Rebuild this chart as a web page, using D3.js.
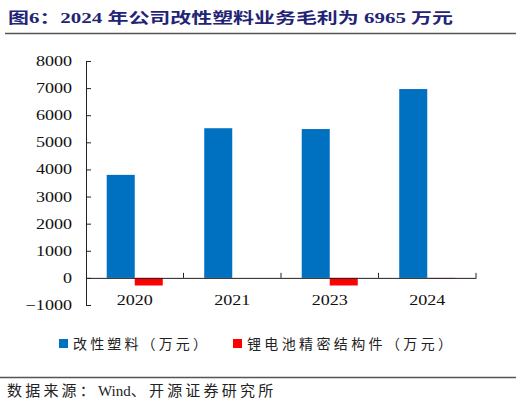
<!DOCTYPE html>
<html>
<head>
<meta charset="utf-8">
<script src="https://cdn.jsdelivr.net/npm/d3@7"></script>
<style>
  body { margin: 0; background: #fff; }
  text { font-family: "Liberation Serif", "Noto Sans CJK SC", serif; }
</style>
</head>
<body>
<svg id="drawing_region"></svg>
<script>
// data
const years = ['2020', '2021', '2023', '2024'];
const plastics = [3800, 5520, 5490, 6965];     // 改性塑料（万元）
const battery = [-280, 0, -280, -20];          // 锂电池精密结构件（万元）
const seriesNames = ['改性塑料（万元）', '锂电池精密结构件（万元）'];
const seriesColors = ['#0070C0', '#FF0000'];
const yTicks = [-1000, 0, 1000, 2000, 3000, 4000, 5000, 6000, 7000, 8000];

const W = 522, H = 407;
const SX = 1.29; // the original picture is drawn a bit wide

const svg = d3.select('#drawing_region')
    .attr('width', W)
    .attr('height', H);

// stretch a text element horizontally
function stretch(sel, k) {
    sel.each(function() {
        const len = this.getComputedTextLength();
        d3.select(this).attr('textLength', len * k).attr('lengthAdjust', 'spacingAndGlyphs');
    });
}

// title
svg.append('text')
    .attr('x', 8)
    .attr('y', 23)
    .style('font-size', '15px')
    .style('font-weight', 'bold')
    .attr('fill', '#1F2475')
    .attr('textLength', 445)
    .attr('lengthAdjust', 'spacingAndGlyphs')
    .text('图6：2024 年公司改性塑料业务毛利为 6965 万元');

svg.append('line')
    .attr('x1', 5).attr('x2', 516)
    .attr('y1', 33.5).attr('y2', 33.5)
    .attr('stroke', '#555').attr('stroke-width', 1.3);

// scales
const xscale = d3.scaleBand()
    .domain(years)
    .range([86, 476])
    .padding(0);

const sub = d3.scaleBand()
    .domain([0, 1])
    .range([0, xscale.bandwidth()])
    .paddingInner(0)
    .paddingOuter(0.74);

const yscale = d3.scaleLinear()
    .domain([-1000, 8000])
    .range([305, 61]);

// bars
const rows = years.map((y, i) => ({ year: y, values: [plastics[i], battery[i]] }));

const groups = svg.append('g').selectAll('g')
    .data(rows)
    .join('g')
    .attr('transform', d => `translate(${xscale(d.year)},0)`);

groups.selectAll('rect')
    .data(d => d.values.map((v, k) => ({ k: k, v: v })))
    .join('rect')
    .attr('x', d => sub(d.k))
    .attr('width', sub.bandwidth())
    .attr('y', d => yscale(Math.max(0, d.v)))
    .attr('height', d => Math.abs(yscale(d.v) - yscale(0)))
    .attr('fill', d => seriesColors[d.k]);

// y axis
const yaxis = d3.axisLeft(yscale)
    .tickValues(yTicks)
    .tickFormat(d3.format('d'))
    .tickSizeInner(-5)
    .tickSizeOuter(0)
    .tickPadding(14);

const yaxis_group = svg.append('g')
    .attr('transform', 'translate(86,0)')
    .call(yaxis);
yaxis_group.select('.domain').attr('stroke', '#222');
yaxis_group.selectAll('.tick line').attr('stroke', '#222');
yaxis_group.selectAll('text')
    .attr('fill', '#111')
    .style('font-size', '14px')
    .style('font-family', '"Liberation Serif", serif')
    .call(stretch, SX);

// x axis at zero
const xaxis = d3.axisBottom(xscale)
    .tickSize(0)
    .tickPadding(17);

const xaxis_group = svg.append('g')
    .attr('transform', `translate(0,${yscale(0)})`)
    .call(xaxis);
xaxis_group.select('.domain').attr('stroke', '#222');
xaxis_group.selectAll('text')
    .attr('fill', '#111')
    .style('font-size', '14px')
    .style('font-family', '"Liberation Serif", serif')
    .call(stretch, SX);

// category boundary ticks pointing up
const bounds = years.slice(1).map(d => xscale(d)).concat([xscale.range()[1]]);
xaxis_group.selectAll('line.bound')
    .data(bounds)
    .join('line')
    .attr('class', 'bound')
    .attr('x1', d => d).attr('x2', d => d)
    .attr('y1', 0).attr('y2', -5)
    .attr('stroke', '#222');

// legend
const legendX = [59, 233];
const legend = svg.append('g').selectAll('g')
    .data(seriesNames)
    .join('g')
    .attr('transform', (d, i) => `translate(${legendX[i]},339)`);

legend.append('rect')
    .attr('width', 9).attr('height', 9)
    .attr('fill', (d, i) => seriesColors[i]);

legend.append('text')
    .attr('x', 14)
    .attr('y', 10)
    .style('font-size', '14px')
    .attr('fill', '#222')
    .attr('textLength', (d, i) => [134, 205][i])
    .attr('lengthAdjust', 'spacing')
    .text(d => d);

// source
svg.append('line')
    .attr('x1', 0).attr('x2', 516)
    .attr('y1', 377.5).attr('y2', 377.5)
    .attr('stroke', '#555').attr('stroke-width', 1.3);

const source = svg.append('text')
    .attr('x', 7)
    .attr('y', 396)
    .style('font-size', '15px')
    .attr('fill', '#222');
source.append('tspan').style('letter-spacing', '3.2px').text('数据来源：');
source.append('tspan').text('Wind');
source.append('tspan').style('letter-spacing', '3.2px').text('、开源证券研究所');
</script>
</body>
</html>
